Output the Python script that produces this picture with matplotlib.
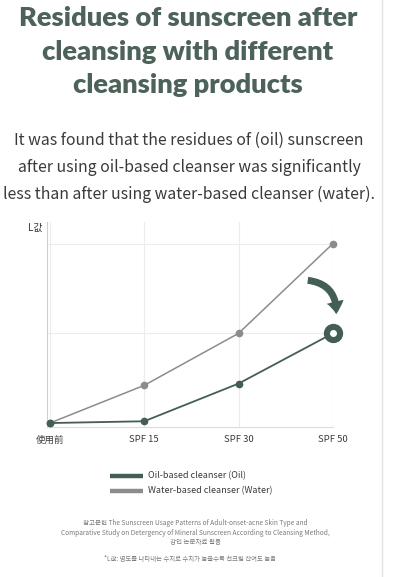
import matplotlib
matplotlib.use("Agg")
import matplotlib.pyplot as plt
from matplotlib.lines import Line2D
from matplotlib.patches import FancyArrowPatch

categories = ["使用前", "SPF 15", "SPF 30", "SPF 50"]
oil_values = [0, 1, 22, 50]
water_values = [0, 21, 50, 100]
series_labels = ["Oil-based cleanser (Oil)", "Water-based cleanser (Water)"]

title_lines = ["Residues of sunscreen after", "cleansing with different", "cleansing products"]
subtitle_lines = [
    "It was found that the residues of (oil) sunscreen",
    "after using oil-based cleanser was significantly",
    "less than after using water-based cleanser (water).",
]
ylabel = "L값"
footnote_lines = [
    "참고문헌 The Sunscreen Usage Patterns of Adult-onset-acne Skin Type and",
    "Comparative Study on Detergency of Mineral Sunscreen According to Cleansing Method,",
    "강인 논문자료 활용",
]
footnote2 = "*L값: 명도를 나타내는 수치로 수치가 높을수록 선크림 잔여도 높음"

W, H = 393, 577
OIL = "#445e54"
WATER = "#8c8c8c"
TITLE_C = "#4d6259"
TEXT_C = "#3a3a3a"
CJK = ["Noto Sans CJK KR", "DejaVu Sans"]

fig = plt.figure(figsize=(W / 100, H / 100), dpi=100)
fig.patch.set_facecolor("white")

def fx(x):
    return x / W
def fy(y):
    return 1 - y / H

# page border line on the right
fig.add_artist(Line2D([fx(382), fx(382)], [0, 1], color="#e3e3e3", lw=1.0))

# title
for i, line in enumerate(title_lines):
    fig.text(fx(188), fy(18 + 33.5 * i), line, ha="center", va="center",
             fontsize=19.6, fontweight="heavy", family=["Lato", "DejaVu Sans"],
             color=TITLE_C)

# subtitle
for i, line in enumerate(subtitle_lines):
    fig.text(fx(189), fy(140 + 27 * i), line, ha="center", va="center",
             fontsize=11.4, fontweight="light", family=CJK, color=TEXT_C)

# axes
ax = fig.add_axes([fx(47), fy(427), fx(333) - fx(47), fy(222) - fy(427)])
x = list(range(len(categories)))
ax.plot(x, water_values, color=WATER, lw=1.1, marker="o", ms=4.5,
        mfc=WATER, mec=WATER, clip_on=False, zorder=3)
ax.plot(x, oil_values, color=OIL, lw=1.3, marker="o", ms=4.5,
        mfc=OIL, mec=OIL, clip_on=False, zorder=4)
ax.plot([x[-1]], [oil_values[-1]], marker="o", ms=9.5, mfc="white", mec=OIL,
        mew=4.4, clip_on=False, zorder=5)

ax.set_xlim(-0.03, 3.0)
ax.set_ylim(-2.2, 112)
ax.set_xticks(x)
ax.set_xticklabels(categories, family=CJK, fontsize=6.8, color=TEXT_C)
ax.set_yticks([50, 100])
ax.set_yticklabels([])
ax.tick_params(length=0, pad=6)
ax.grid(True, color="#ececec", lw=0.8)
ax.set_axisbelow(True)
for s in ["top", "right"]:
    ax.spines[s].set_visible(False)
ax.spines["left"].set_color("#cfcfcf")
ax.spines["bottom"].set_color("#dcdcdc")
ax.spines["left"].set_linewidth(0.8)
ax.spines["bottom"].set_linewidth(0.8)

fig.text(fx(35), fy(228), ylabel, ha="center", va="center", fontsize=7.2,
         family=CJK, color=TEXT_C)

# curved arrow
arrow = FancyArrowPatch((fx(305), fy(280)), (fx(336), fy(317)),
                        transform=fig.transFigure,
                        connectionstyle="arc3,rad=-0.5",
                        arrowstyle="simple,head_length=0.9,head_width=1.25,tail_width=0.5",
                        mutation_scale=10, color=OIL, lw=0)
fig.add_artist(arrow)

# legend
for i, (lab, col) in enumerate(zip(series_labels, [OIL, WATER])):
    yy = 476 + 15 * i
    fig.add_artist(Line2D([fx(110), fx(143)], [fy(yy), fy(yy)], color=col, lw=3.2,
                          solid_capstyle="butt"))
    fig.text(fx(148), fy(yy), lab, ha="left", va="center", fontsize=6.5,
             family=CJK, color=TEXT_C)

# footnotes
for i, line in enumerate(footnote_lines):
    fig.text(fx(195), fy(523 + 9.7 * i), line, ha="center", va="center",
             fontsize=4.7, family=CJK, color="#7a7a7a")
fig.text(fx(190), fy(559), footnote2, ha="center", va="center", fontsize=4.6,
         family=CJK, color="#7a7a7a")

fig.savefig("out.png", dpi=100, facecolor="white")
